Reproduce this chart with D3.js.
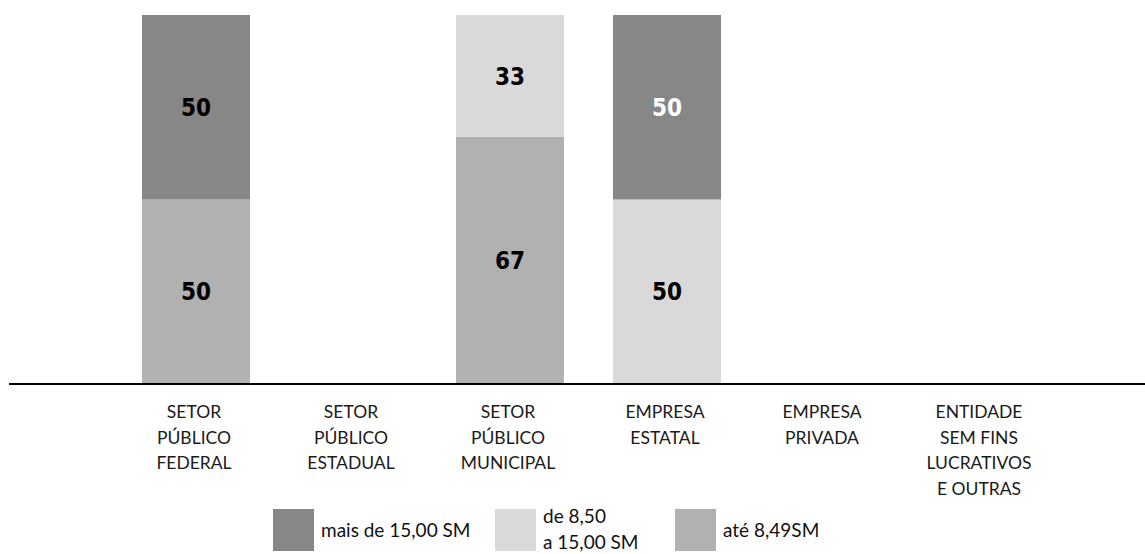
<!DOCTYPE html>
<html>
<head>
<meta charset="utf-8">
<script src="https://cdn.jsdelivr.net/npm/d3@7"></script>
<style>
  html, body { margin: 0; padding: 0; background: #fff; }
  svg { display: block; }
</style>
</head>
<body>
<svg id="chart" width="1145" height="554"></svg>
<script>
// ---- data ----
const categories = [
  "SETOR PÚBLICO FEDERAL",
  "SETOR PÚBLICO ESTADUAL",
  "SETOR PÚBLICO MUNICIPAL",
  "EMPRESA ESTATAL",
  "EMPRESA PRIVADA",
  "ENTIDADE SEM FINS LUCRATIVOS E OUTRAS"
];
const categoryLines = [
  ["SETOR", "PÚBLICO", "FEDERAL"],
  ["SETOR", "PÚBLICO", "ESTADUAL"],
  ["SETOR", "PÚBLICO", "MUNICIPAL"],
  ["EMPRESA", "ESTATAL"],
  ["EMPRESA", "PRIVADA"],
  ["ENTIDADE", "SEM FINS", "LUCRATIVOS", "E OUTRAS"]
];
const seriesKeys = ["ate849", "de850a15", "mais15"];
const seriesNames = ["até 8,49SM", "de 8,50\na 15,00 SM", "mais de 15,00 SM"];
const ate849   = [50, 0, 67, 0, 0, 0];
const de850a15 = [0, 0, 33, 50, 0, 0];
const mais15   = [50, 0, 0, 50, 0, 0];
const legendOrder = ["mais15", "de850a15", "ate849"];

// ---- styles ----
const colors = { ate849: "#b1b1b1", de850a15: "#d9d9d9", mais15: "#878787" };
const labelColors = { ate849: "#000", de850a15: "#000", mais15: ["#000", "#000", "#000", "#fff", "#000", "#000"] };

const rows = categories.map((c, i) => ({
  category: c,
  ate849: ate849[i],
  de850a15: de850a15[i],
  mais15: mais15[i]
}));

const svg = d3.select("#chart");
const baseY = 384, topY = 15;

const x = d3.scaleBand()
  .domain(categories)
  .range([117.5, 1059.5])
  .paddingInner(0.312)
  .paddingOuter(0.156);

const y = d3.scaleLinear().domain([0, 100]).range([baseY, topY]);

const stacked = d3.stack().keys(seriesKeys)(rows);

const layers = svg.append("g").selectAll("g")
  .data(stacked)
  .join("g")
  .attr("fill", d => colors[d.key]);

layers.selectAll("rect")
  .data(d => d.map(v => ({ v, key: d.key })))
  .join("rect")
  .filter(d => d.v[1] - d.v[0] > 0)
  .attr("x", d => x(d.v.data.category))
  .attr("width", x.bandwidth())
  .attr("y", d => y(d.v[1]))
  .attr("height", d => y(d.v[0]) - y(d.v[1]));

// value labels
const labelFont = "'DejaVu Sans Condensed', 'DejaVu Sans', sans-serif";
stacked.forEach(layer => {
  layer.forEach((v, i) => {
    const val = v[1] - v[0];
    if (val <= 0) return;
    const lc = labelColors[layer.key];
    svg.append("text")
      .attr("x", x(v.data.category) + x.bandwidth() / 2)
      .attr("y", (y(v[0]) + y(v[1])) / 2)
      .attr("dy", "0.36em")
      .attr("text-anchor", "middle")
      .attr("font-family", labelFont)
      .attr("font-weight", "bold")
      .attr("font-stretch", "condensed")
      .attr("font-size", 24)
      .attr("fill", Array.isArray(lc) ? lc[i] : lc)
      .text(val);
  });
});

// axis baseline
svg.append("line")
  .attr("x1", 9).attr("x2", 1145)
  .attr("y1", baseY).attr("y2", baseY)
  .attr("stroke", "#000").attr("stroke-width", 2);

// category labels
const catFont = "Lato, 'Noto Sans', sans-serif";
categories.forEach((c, i) => {
  const t = svg.append("text")
    .attr("text-anchor", "middle")
    .attr("font-family", catFont)
    .attr("font-size", 17.5)
    .attr("fill", "#1a1a1a");
  categoryLines[i].forEach((ln, j) => {
    t.append("tspan")
      .attr("x", x(c) + x.bandwidth() / 2 - 2)
      .attr("y", 418 + j * 25.5)
      .text(ln);
  });
});

// legend
const legendX = [273, 495, 675];
legendOrder.forEach((k, i) => {
  const g = svg.append("g").attr("transform", `translate(${legendX[i]},509)`);
  g.append("rect").attr("width", 41).attr("height", 42).attr("fill", colors[k]);
  const lines = seriesNames[seriesKeys.indexOf(k)].split("\n");
  const t = g.append("text")
    .attr("font-family", catFont)
    .attr("font-size", 19)
    .attr("fill", "#111");
  lines.forEach((ln, j) => {
    const yy = lines.length === 1 ? 28 : 14 + j * 26;
    t.append("tspan").attr("x", lines.length === 1 ? 48 : 48, 0).attr("y", yy).text(ln);
  });
});
</script>
</body>
</html>
